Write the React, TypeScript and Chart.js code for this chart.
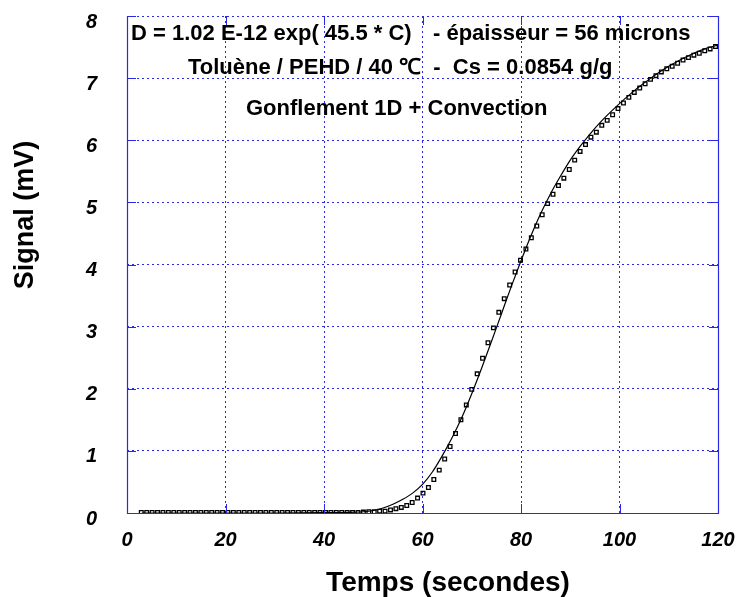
import React, { useEffect, useRef } from "react";
import { Chart, registerables } from "chart.js";

Chart.register(...registerables);

// Measured samples (time in s, signal in mV)
const SAMPLE_TIMES: number[] = [
  2.9, 4.0, 5.1, 6.2, 7.3, 8.4, 9.5, 10.6, 11.7, 12.8, 13.9, 15.0, 16.1, 17.2, 18.3, 19.4,
  20.5, 21.6, 22.7, 23.8, 24.9, 26.0, 27.1, 28.2, 29.3, 30.4, 31.5, 32.6, 33.7, 34.8, 35.9,
  37.0, 38.1, 39.2, 40.3, 41.4, 42.5, 43.6, 44.7, 45.8, 46.9, 48.0, 49.1, 50.2, 51.3, 52.4,
  53.5, 54.6, 55.7, 56.8, 57.9, 59.0, 60.1, 61.2, 62.3, 63.4, 64.5, 65.6, 66.7, 67.8, 68.9,
  70.0, 71.1, 72.2, 73.3, 74.4, 75.5, 76.6, 77.7, 78.8, 79.9, 81.0, 82.1, 83.2, 84.3, 85.4,
  86.5, 87.6, 88.7, 89.8, 90.9, 92.0, 93.1, 94.2, 95.3, 96.4, 97.5, 98.6, 99.7, 100.8, 101.9,
  103.0, 104.1, 105.2, 106.3, 107.4, 108.5, 109.6, 110.7, 111.8, 112.9, 114.0, 115.1, 116.2,
  117.3, 118.4, 119.5,
];
const SAMPLE_SIGNAL: number[] = [
  0.01, 0.01, 0.01, 0.01, 0.01, 0.01, 0.01, 0.01, 0.01, 0.01, 0.01, 0.01, 0.01, 0.01, 0.01, 0.01,
  0.01, 0.01, 0.01, 0.01, 0.01, 0.01, 0.01, 0.01, 0.01, 0.01, 0.01, 0.01, 0.01, 0.01, 0.01,
  0.01, 0.01, 0.01, 0.01, 0.01, 0.01, 0.01, 0.01, 0.01, 0.01, 0.015, 0.02, 0.02, 0.03, 0.03,
  0.05, 0.07, 0.09, 0.12, 0.17, 0.24, 0.32, 0.41, 0.54, 0.69, 0.87, 1.07, 1.28, 1.5, 1.74,
  1.99, 2.24, 2.49, 2.74, 2.98, 3.23, 3.45, 3.67, 3.88, 4.07, 4.25, 4.43, 4.62, 4.8, 4.98,
  5.13, 5.27, 5.39, 5.53, 5.68, 5.82, 5.93, 6.05, 6.13, 6.24, 6.32, 6.41, 6.51, 6.6, 6.69,
  6.77, 6.84, 6.91, 6.98, 7.04, 7.1, 7.15, 7.19, 7.24, 7.29, 7.33, 7.37, 7.4,
  7.44, 7.47, 7.51,
];

// Model curve (Gonflement 1D + Convection)
const MODEL_TIMES: number[] = [
  3, 10, 20, 30, 40, 45, 48, 50, 52, 54, 56, 58, 60, 62, 64, 66, 68, 70, 72, 74, 76, 78, 80,
  82, 84, 86, 88, 90, 92, 94, 96, 98, 100, 102, 104, 106, 108, 110, 112, 114, 116, 118, 120,
];
const MODEL_SIGNAL: number[] = [
  0, 0, 0, 0, 0.005, 0.01, 0.02, 0.04, 0.08, 0.14, 0.22, 0.32, 0.46, 0.66, 0.92, 1.21, 1.54,
  1.92, 2.33, 2.76, 3.2, 3.64, 4.06, 4.46, 4.82, 5.14, 5.42, 5.68, 5.9, 6.1, 6.28, 6.44, 6.59,
  6.73, 6.86, 6.98, 7.09, 7.19, 7.28, 7.36, 7.43, 7.49, 7.53,
];

const X_TICKS: number[] = [0, 20, 40, 60, 80, 100, 120];
const Y_TICKS: number[] = [0, 1, 2, 3, 4, 5, 6, 7, 8];

const X_TITLE = "Temps (secondes)";
const Y_TITLE = "Signal (mV)";
const NOTE_LINES: string[] = [
  "D = 1.02 E-12 exp( 45.5 * C)",
  "- épaisseur = 56 microns",
  "Toluène / PEHD / 40 \u2103  -  Cs = 0.0854 g/g",
  "Gonflement 1D + Convection",
];

const BLUE = "#2a2ae6";
const FONT = "'Liberation Sans', Arial, sans-serif";

const decorPlugin = {
  id: "decor",
  afterDraw(chart: any) {
    const { ctx, chartArea } = chart;
    const { left, right, top, bottom } = chartArea;
    const xs = chart.scales.x;
    const ys = chart.scales.y;
    ctx.save();
    // frame
    ctx.strokeStyle = BLUE;
    ctx.lineWidth = 1.2;
    ctx.beginPath();
    ctx.moveTo(left + 0.5, top);
    ctx.lineTo(left + 0.5, bottom + 0.5);
    ctx.lineTo(right + 0.5, bottom + 0.5);
    ctx.lineTo(right + 0.5, top);
    ctx.stroke();
    // inner ticks
    const tl = 9;
    ctx.lineWidth = 1;
    ctx.beginPath();
    X_TICKS.forEach((v) => {
      const px = Math.round(xs.getPixelForValue(v)) + 0.5;
      ctx.moveTo(px, bottom);
      ctx.lineTo(px, bottom - tl);
      ctx.moveTo(px, top);
      ctx.lineTo(px, top + tl);
    });
    Y_TICKS.forEach((v) => {
      const py = Math.round(ys.getPixelForValue(v)) + 0.5;
      ctx.moveTo(left, py);
      ctx.lineTo(left + tl, py);
      ctx.moveTo(right, py);
      ctx.lineTo(right - tl, py);
    });
    ctx.stroke();

    // axis titles
    ctx.fillStyle = "#000";
    ctx.font = `bold 28px ${FONT}`;
    ctx.textAlign = "center";
    ctx.textBaseline = "alphabetic";
    ctx.fillText(X_TITLE, 448, 591);
    ctx.save();
    ctx.translate(33, 215);
    ctx.rotate(-Math.PI / 2);
    ctx.font = `bold 27px ${FONT}`;
    ctx.fillText(Y_TITLE, 0, 0);
    ctx.restore();

    // annotations
    ctx.font = `bold 22px ${FONT}`;
    ctx.textAlign = "left";
    ctx.fillText(NOTE_LINES[0], 131, 40);
    ctx.fillText(NOTE_LINES[1], 433, 40);
    ctx.fillText(NOTE_LINES[2], 188, 74);
    ctx.fillText(NOTE_LINES[3], 246, 115);
    ctx.restore();
  },
};

const zeroPad = (s: any) => {
  s.paddingTop = 0;
  s.paddingBottom = 0;
  s.paddingLeft = 0;
  s.paddingRight = 0;
};

export default function App() {
  const ref = useRef<HTMLCanvasElement | null>(null);

  useEffect(() => {
    if (!ref.current) return;
    const chart = new Chart(ref.current, {
      type: "scatter",
      data: {
        datasets: [
          {
            label: "Mesure",
            data: SAMPLE_TIMES.map((t, i) => ({ x: t, y: SAMPLE_SIGNAL[i] })),
            showLine: false,
            pointStyle: "rect",
            pointRadius: 2.6,
            pointBorderWidth: 1.3,
            pointBorderColor: "#000",
            pointBackgroundColor: "rgba(255,255,255,0)",
            order: 1,
          },
          {
            label: "Modèle",
            data: MODEL_TIMES.map((t, i) => ({ x: t, y: MODEL_SIGNAL[i] })),
            showLine: true,
            borderColor: "#000",
            borderWidth: 1.2,
            pointRadius: 0,
            cubicInterpolationMode: "monotone",
            order: 2,
          },
        ],
      },
      options: {
        responsive: false,
        animation: false,
        layout: { padding: { left: 0, right: 21, top: 16, bottom: 0 } },
        plugins: {
          legend: { display: false },
          tooltip: { enabled: false },
        },
        scales: {
          x: {
            type: "linear",
            min: 0,
            max: 120,
            afterFit: (s: any) => {
              s.height = 84;
              zeroPad(s);
            },
            afterBuildTicks: (s: any) => {
              s.ticks = X_TICKS.map((v) => ({ value: v }));
            },
            ticks: {
              padding: 15,
              color: "#000",
              font: { family: FONT, size: 20, weight: "bold", style: "italic" },
              maxRotation: 0,
            },
            grid: { color: BLUE, lineWidth: 1, drawTicks: false },
            border: { display: false, dash: [2, 3] },
          },
          y: {
            type: "linear",
            min: 0,
            max: 8,
            afterFit: (s: any) => {
              s.width = 127;
              zeroPad(s);
            },
            afterBuildTicks: (s: any) => {
              s.ticks = Y_TICKS.map((v) => ({ value: v }));
            },
            ticks: {
              padding: 30,
              labelOffset: 6,
              color: "#000",
              font: { family: FONT, size: 20, weight: "bold", style: "italic" },
            },
            grid: { color: BLUE, lineWidth: 1, drawTicks: false },
            border: { display: false, dash: [2, 3] },
          },
        },
      },
      plugins: [decorPlugin],
    } as any);
    return () => chart.destroy();
  }, []);

  return (
    <div style={{ position: "absolute", left: 0, top: 0, width: 739, height: 597, background: "#fff" }}>
      <canvas ref={ref} width={739} height={597} style={{ display: "block" }} />
    </div>
  );
}
